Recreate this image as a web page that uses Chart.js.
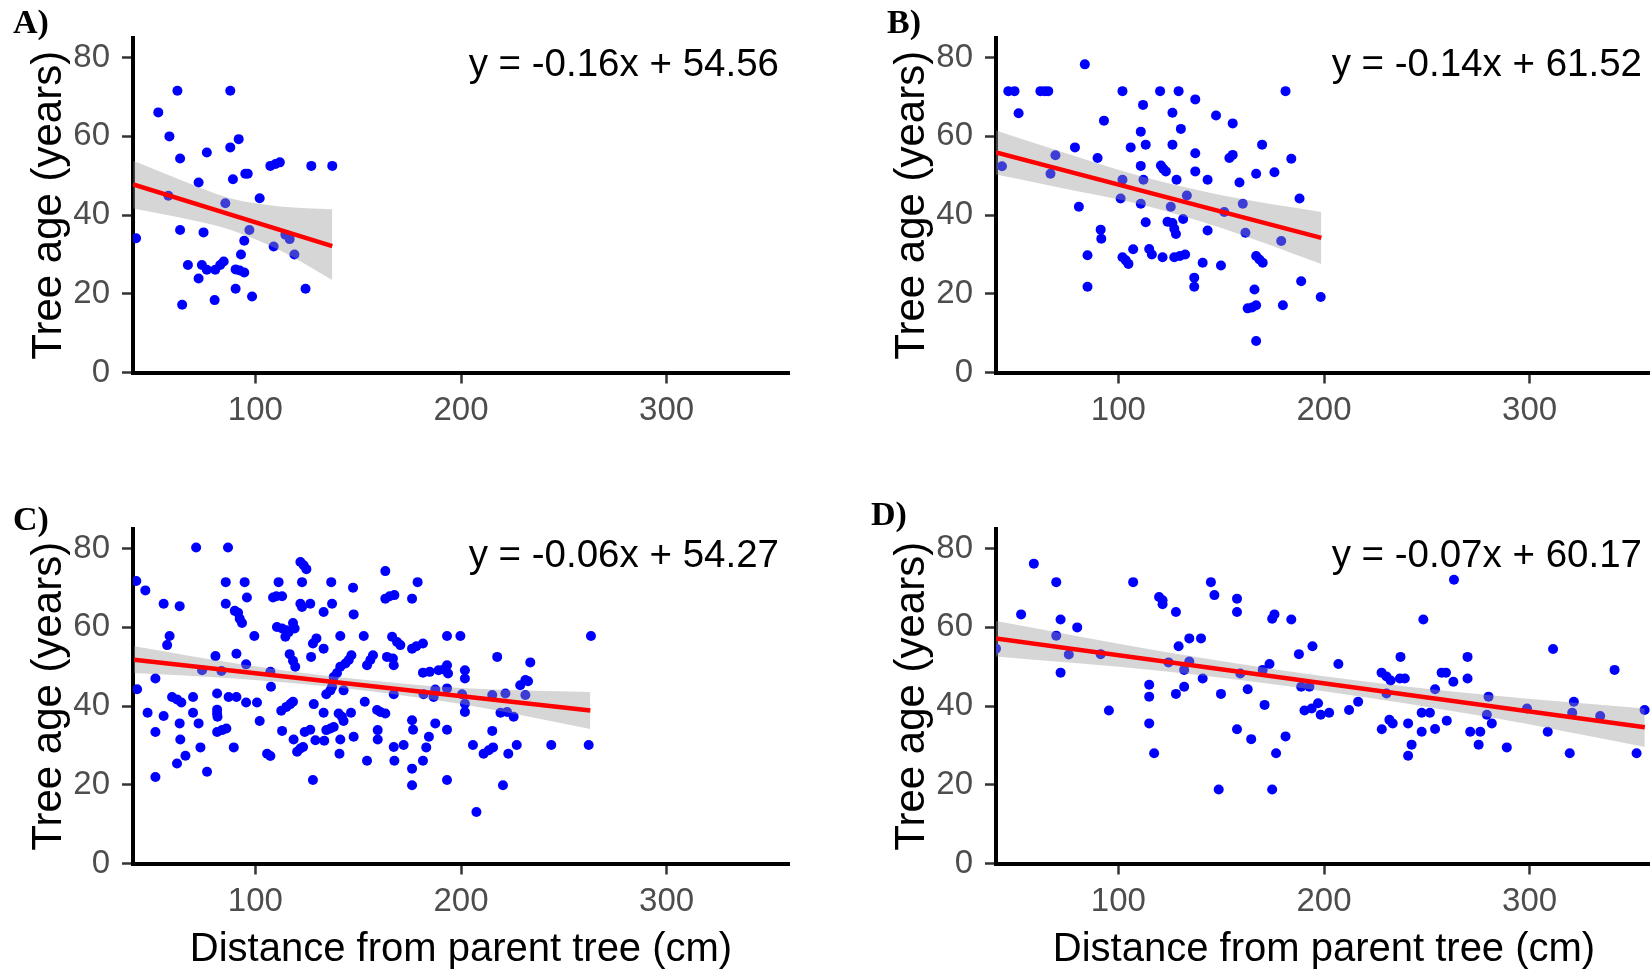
<!DOCTYPE html>
<html>
<head>
<meta charset="utf-8">
<script src="https://cdn.jsdelivr.net/npm/chart.js@4.4.1/dist/chart.umd.min.js"></script>
<style>
  html, body { margin: 0; padding: 0; width: 1650px; height: 972px; overflow: hidden; background: #ffffff; }
  .panel { position: absolute; }
  .panel canvas { display: block; }
  .lab { position: absolute; font-family: "Liberation Serif", "DejaVu Serif", serif; font-weight: bold;
         font-size: 34px; line-height: 1; color: #000; white-space: nowrap; }
</style>
</head>
<body>
<div class="panel" style="left:0px;top:0px;width:800px;height:460px"><canvas id="cA" width="800" height="460" style="width:800px;height:460px"></canvas></div>
<div class="panel" style="left:863px;top:0px;width:800px;height:460px"><canvas id="cB" width="800" height="460" style="width:800px;height:460px"></canvas></div>
<div class="panel" style="left:0px;top:491px;width:800px;height:481px"><canvas id="cC" width="800" height="481" style="width:800px;height:481px"></canvas></div>
<div class="panel" style="left:863px;top:491px;width:800px;height:481px"><canvas id="cD" width="800" height="481" style="width:800px;height:481px"></canvas></div>
<div class="lab" id="lA" style="left:13px;top:5px"></div>
<div class="lab" id="lB" style="left:887px;top:5px"></div>
<div class="lab" id="lC" style="left:13px;top:502px"></div>
<div class="lab" id="lD" style="left:871px;top:497px"></div>
<script>
// ---------------- data ----------------
const PANEL_LABELS = ['A)', 'B)', 'C)', 'D)'];
const EQUATIONS = ['y = -0.16x + 54.56', 'y = -0.14x + 61.52', 'y = -0.06x + 54.27', 'y = -0.07x + 60.17'];
const X_TITLE = 'Distance from parent tree (cm)';
const Y_TITLE = 'Tree age (years)';
const X_TICKS = [100, 200, 300];
const Y_TICKS = [0, 20, 40, 60, 80];
const X_RANGE = [40.5, 359.5];
const Y_RANGE = [0, 85];

// Panel A
const A_X = [42.0, 52.8, 58.2, 57.7, 62.1, 63.4, 63.4, 67.2, 64.4, 72.4,
             74.8, 76.4, 72.4, 74.0, 76.4, 80.5, 82.9, 84.6, 80.2, 85.4,
             87.8, 87.8, 91.9, 89.1, 95.1, 96.3, 90.4, 92.4, 94.6, 90.4,
             93.0, 94.6, 97.1, 98.4, 102.1, 107.3, 109.8, 111.9, 108.9, 114.6,
             116.7, 119.0, 124.4, 127.2, 137.4];
const A_Y = [34.1, 66.1, 60.0, 44.9, 71.6, 54.4, 36.2, 27.3, 17.2, 48.3,
             35.6, 55.9, 23.9, 27.3, 26.1, 26.1, 27.3, 28.2, 18.4, 43.0,
             71.6, 57.2, 59.3, 49.1, 50.5, 50.5, 26.2, 25.9, 25.4, 21.3,
             30.0, 33.5, 36.2, 19.3, 44.3, 52.5, 53.0, 53.4, 32.0, 35.0,
             33.9, 30.0, 21.3, 52.5, 52.5];
const A_LINE_X = [40.6, 137.4];
const A_LINE_Y = [47.8, 32.1];
const A_BAND_X = [40.6, 63.4, 87.8, 112.2, 137.4];
const A_BAND_HI = [53.8, 49.0, 44.3, 42.2, 41.5];
const A_BAND_LO = [41.7, 39.4, 36.3, 31.0, 23.5];

// Panel B
const B_X = [43.4, 46.5, 49.5, 51.5, 62.1, 64.2, 65.9, 67.0, 69.4, 78.9,
             80.8, 83.7, 85.0, 85.0, 89.9, 93.0, 91.4, 91.7, 102.0, 102.0,
             101.1, 102.0, 103.6, 104.9, 106.0, 107.2, 112.0, 110.9, 113.3, 110.9,
             112.2, 110.9, 113.3, 115.0, 116.3, 120.3, 120.7, 121.8, 123.1, 121.5,
             125.5, 126.3, 130.4, 129.3, 126.3, 128.3, 123.9, 126.3, 127.2, 128.0,
             127.2, 129.9, 132.5, 131.5, 133.3, 137.4, 137.4, 137.4, 136.9, 136.9,
             143.4, 143.4, 141.0, 147.5, 151.5, 149.9, 155.6, 154.0, 155.6, 158.9,
             160.5, 161.8, 162.9, 165.0, 167.0, 166.2, 167.0, 167.0, 169.9, 167.0,
             168.6, 170.2, 175.9, 179.2, 180.0, 181.3, 184.1, 188.1, 188.9, 198.4];
const B_Y = [52.4, 71.5, 71.5, 65.9, 71.5, 71.5, 71.5, 50.5, 55.2, 57.2,
             42.1, 78.3, 29.8, 21.8, 54.5, 64.0, 36.3, 34.0, 71.5, 49.0,
             44.2, 29.3, 28.5, 27.6, 57.2, 31.3, 68.0, 61.2, 57.9, 52.5,
             49.0, 42.9, 38.2, 31.4, 30.0, 71.5, 52.6, 51.8, 51.1, 29.3,
             42.1, 66.0, 61.9, 71.5, 57.9, 49.0, 38.3, 38.0, 36.5, 35.2,
             29.3, 29.6, 30.0, 39.0, 45.0, 69.4, 55.7, 51.1, 24.1, 21.8,
             49.0, 36.1, 27.9, 65.3, 40.8, 27.2, 63.3, 54.5, 55.3, 48.3,
             42.9, 35.5, 16.3, 16.5, 17.1, 21.1, 8.0, 50.5, 57.9, 29.6,
             28.7, 27.9, 50.9, 33.4, 17.1, 71.5, 54.3, 44.2, 23.2, 19.2];
const B_LINE_X = [40.5, 198.7];
const B_LINE_Y = [55.9, 34.2];
const B_BAND_X = [40.5, 69.3, 110.1, 150.8, 198.7];
const B_BAND_HI = [61.5, 56.6, 50.0, 45.0, 40.8];
const B_BAND_LO = [50.3, 47.2, 42.8, 36.6, 27.6];

// Panel C
const C_X = [42.1, 46.5, 42.5, 47.6, 51.4, 51.4, 51.4, 55.4, 55.4, 57.1,
             58.3, 63.2, 59.5, 61.9, 64.0, 63.2, 63.5, 61.9, 66.0, 71.2,
             69.7, 69.7, 72.4, 73.3, 76.5, 74.1, 80.6, 81.4, 81.4, 81.4,
             81.6, 81.4, 83.8, 85.9, 83.5, 86.7, 85.6, 85.6, 87.0, 90.8,
             89.5, 90.8, 90.0, 91.6, 92.4, 93.5, 94.8, 95.9, 95.5, 95.5,
             100.8, 99.5, 102.1, 105.7, 107.3, 107.6, 107.3, 108.6, 110.2, 113.0,
             111.3, 110.5, 113.0, 115.1, 114.6, 116.2, 118.3, 119.1, 112.6, 115.1,
             117.0, 118.3, 113.0, 116.7, 118.3, 119.4, 118.6, 120.3, 121.9, 123.2,
             121.9, 123.5, 124.8, 122.7, 121.9, 122.7, 126.7, 124.0, 126.7, 128.0,
             129.7, 127.1, 128.0, 128.4, 129.2, 133.5, 133.2, 133.2, 133.2, 136.9,
             137.3, 134.5, 136.5, 137.3, 134.5, 136.5, 138.1, 140.5, 142.1, 142.9,
             141.3, 141.3, 140.9, 138.1, 139.7, 141.3, 143.8, 145.4, 146.7, 142.9,
             146.5, 147.5, 147.8, 147.8, 152.7, 153.2, 154.3, 155.9, 157.2, 154.3,
             159.2, 160.8, 163.2, 159.5, 159.5, 163.2, 163.2, 165.3, 167.6, 164.0,
             166.9, 167.3, 166.5, 168.9, 170.5, 167.3, 167.3, 167.6, 172.1, 178.9,
             176.2, 176.2, 178.3, 181.5, 193.2, 199.7, 181.5, 184.8, 189.1, 191.6,
             193.2, 193.7, 201.9, 201.9, 181.8, 186.7, 187.5, 193.2, 200.5, 201.9,
             201.9, 176.2, 176.7, 187.5, 193.2, 184.4, 183.1, 181.5, 176.2, 176.2,
             193.2, 207.5, 205.8, 211.0, 213.5, 215.6, 215.2, 217.6, 215.2, 219.2,
             221.6, 222.4, 225.6, 220.4, 223.0, 227.1, 228.8, 231.3, 232.6, 231.3,
             233.7, 243.9, 262.1, 263.2];
const C_Y = [71.8, 69.4, 44.3, 38.3, 47.0, 33.4, 22.0, 66.0, 37.5, 55.5,
             57.8, 65.4, 42.3, 41.7, 40.9, 35.6, 31.5, 25.4, 27.4, 80.3,
             42.3, 38.3, 35.6, 29.5, 23.3, 49.1, 52.7, 43.2, 39.1, 38.1,
             37.3, 33.4, 33.9, 34.3, 48.9, 80.3, 71.5, 66.0, 42.3, 42.3,
             29.5, 53.3, 64.2, 63.7, 62.2, 61.1, 71.5, 67.6, 50.6, 40.9,
             40.9, 57.8, 36.2, 27.9, 27.3, 44.9, 48.7, 67.6, 67.9, 67.9,
             71.5, 60.1, 59.7, 59.3, 57.6, 58.8, 61.1, 59.7, 38.8, 39.8,
             40.5, 41.1, 33.7, 53.2, 51.5, 50.0, 31.5, 28.4, 29.2, 29.6,
             76.6, 75.8, 74.8, 71.5, 66.0, 65.2, 66.0, 33.4, 34.0, 55.9,
             57.2, 52.5, 21.2, 40.5, 31.3, 31.2, 63.9, 54.6, 38.3, 71.5,
             66.0, 43.0, 44.0, 44.9, 33.9, 34.3, 34.7, 38.1, 37.3, 36.2,
             57.8, 31.5, 27.9, 47.4, 48.4, 50.0, 50.8, 51.7, 52.9, 44.0,
             38.3, 70.1, 63.3, 32.2, 57.8, 41.1, 50.4, 51.7, 52.9, 26.1,
             39.0, 38.5, 38.1, 33.9, 31.5, 74.3, 67.3, 67.9, 68.2, 52.5,
             52.1, 50.4, 57.6, 56.3, 55.5, 43.0, 29.6, 26.1, 30.1, 71.5,
             67.3, 54.6, 55.2, 55.9, 57.8, 57.8, 48.5, 48.7, 49.1, 49.3,
             50.4, 48.3, 49.1, 47.0, 43.0, 42.3, 44.2, 44.5, 43.0, 40.6,
             38.5, 36.4, 34.0, 35.6, 34.0, 32.2, 29.5, 26.1, 24.1, 19.9,
             21.2, 13.1, 30.1, 27.9, 28.8, 29.5, 33.7, 52.5, 42.8, 38.3,
             43.2, 38.5, 37.3, 19.9, 27.9, 30.1, 45.3, 46.6, 46.3, 42.8,
             51.1, 30.1, 30.1, 57.8];
const C_LINE_X = [41.0, 262.9];
const C_LINE_Y = [51.8, 38.9];
const C_BAND_X = [41.0, 90.0, 140.0, 200.0, 262.9];
const C_BAND_HI = [55.2, 50.9, 47.4, 44.6, 43.6];
const C_BAND_LO = [48.4, 47.0, 44.7, 40.5, 34.2];

// Panel D
const D_X = [40.5, 52.7, 58.9, 69.8, 69.8, 71.9, 71.9, 75.9, 80.0, 91.4,
             95.4, 107.2, 115.0, 115.0, 115.0, 117.4, 119.8, 121.5, 121.5, 128.0,
             129.3, 128.0, 124.4, 132.0, 132.0, 134.5, 134.5, 140.2, 141.0, 145.0,
             146.7, 148.8, 149.9, 157.7, 157.7, 159.3, 157.7, 162.9, 164.6, 171.1,
             170.2, 173.5, 174.8, 174.8, 175.9, 176.7, 184.1, 181.3, 187.8, 194.4,
             188.9, 192.9, 190.5, 194.0, 197.1, 198.4, 202.5, 207.0, 212.2, 216.6,
             228.0, 230.4, 232.4, 230.4, 228.1, 231.8, 233.4, 237.2, 236.9, 239.3,
             240.9, 242.6, 240.9, 248.3, 247.5, 251.5, 247.5, 254.0, 254.0, 257.2,
             259.3, 259.7, 262.9, 263.2, 269.8, 269.8, 271.1, 276.0, 275.2, 280.0,
             279.2, 281.6, 288.9, 298.7, 308.8, 311.4, 319.5, 321.5, 320.7, 334.3,
             341.3, 352.0, 355.9];
const D_Y = [54.6, 63.3, 76.2, 71.5, 57.9, 62.0, 48.5, 53.1, 60.0, 53.2,
             38.9, 71.5, 45.4, 42.4, 35.6, 28.0, 67.7, 66.9, 65.9, 63.9,
             55.2, 43.1, 51.1, 49.2, 44.9, 51.3, 57.2, 57.2, 47.0, 71.5,
             68.2, 18.8, 43.1, 67.3, 63.9, 48.3, 34.1, 44.3, 31.6, 40.3,
             49.2, 50.7, 18.8, 62.2, 63.3, 28.0, 62.0, 32.3, 53.2, 55.2,
             44.9, 44.9, 38.9, 39.4, 40.7, 37.8, 38.3, 50.7, 39.0, 41.1,
             48.5, 47.5, 46.5, 43.2, 34.1, 36.5, 35.6, 52.5, 47.0, 47.0,
             35.6, 30.2, 27.4, 62.0, 38.3, 38.3, 33.5, 44.3, 34.2, 48.5,
             48.5, 36.3, 46.2, 72.1, 52.5, 47.0, 33.5, 33.5, 30.2, 42.4,
             37.8, 35.6, 29.5, 39.4, 33.5, 54.5, 28.0, 41.1, 38.3, 37.5,
             49.2, 28.0, 39.0];
const D_LINE_X = [40.5, 356.0];
const D_LINE_Y = [57.2, 34.6];
const D_BAND_X = [40.5, 120.0, 200.0, 280.0, 356.0];
const D_BAND_HI = [61.6, 54.0, 47.6, 42.8, 39.4];
const D_BAND_LO = [52.6, 49.0, 43.8, 37.2, 29.6];

// ---------------- drawing ----------------
const SANS = '"Liberation Sans", Arial, Helvetica, sans-serif';
const zip = (xs, ys) => xs.map((x, i) => ({x: x, y: ys[i]}));

const eqPlugin = {
  id: 'eq',
  afterDraw(chart, args, opts) {
    const {ctx, chartArea} = chart;
    ctx.save();
    ctx.font = '38.5px ' + SANS;
    ctx.fillStyle = '#000000';
    ctx.textAlign = 'right';
    ctx.textBaseline = 'alphabetic';
    ctx.fillText(opts.text, chartArea.right - 10, chartArea.top + 38);
    ctx.restore();
  }
};

const PANELS = [
  {id: 'cA', lab: 'lA', h: 460, xTitle: false, px: A_X, py: A_Y, lx: A_LINE_X, ly: A_LINE_Y, bx: A_BAND_X, bh: A_BAND_HI, bl: A_BAND_LO},
  {id: 'cB', lab: 'lB', h: 460, xTitle: false, px: B_X, py: B_Y, lx: B_LINE_X, ly: B_LINE_Y, bx: B_BAND_X, bh: B_BAND_HI, bl: B_BAND_LO},
  {id: 'cC', lab: 'lC', h: 481, xTitle: true,  px: C_X, py: C_Y, lx: C_LINE_X, ly: C_LINE_Y, bx: C_BAND_X, bh: C_BAND_HI, bl: C_BAND_LO},
  {id: 'cD', lab: 'lD', h: 481, xTitle: true,  px: D_X, py: D_Y, lx: D_LINE_X, ly: D_LINE_Y, bx: D_BAND_X, bh: D_BAND_HI, bl: D_BAND_LO}
];

const AREA_BOTTOM = 372.5;

PANELS.forEach((p, k) => {
  document.getElementById(p.lab).textContent = PANEL_LABELS[k];
  const tickFont = {family: SANS, size: 33};
  const gridOpts = {display: true, drawOnChartArea: false, drawTicks: true, tickLength: 11, tickWidth: 2.5, tickColor: '#333333'};
  new Chart(document.getElementById(p.id), {
    type: 'scatter',
    data: {
      datasets: [
        {type: 'line', data: zip(p.lx, p.ly), borderColor: '#ff0000', borderWidth: 4.5, pointRadius: 0,
         fill: false, showLine: true, tension: 0, order: 0},
        {type: 'line', data: zip(p.bx, p.bh), borderColor: 'rgba(0,0,0,0)', borderWidth: 0,
         backgroundColor: 'rgba(153,153,153,0.4)', pointRadius: 0, fill: '+1', showLine: true,
         cubicInterpolationMode: 'monotone', order: 1},
        {type: 'line', data: zip(p.bx, p.bl), borderColor: 'rgba(0,0,0,0)', borderWidth: 0,
         pointRadius: 0, fill: false, showLine: true, cubicInterpolationMode: 'monotone', order: 2},
        {type: 'scatter', data: zip(p.px, p.py), backgroundColor: '#0000ff', borderWidth: 0,
         pointRadius: 5, order: 3}
      ]
    },
    options: {
      responsive: false,
      animation: false,
      devicePixelRatio: 1,
      events: [],
      layout: {padding: {top: 38, right: 11, bottom: 0, left: 0}},
      plugins: {legend: {display: false}, tooltip: {enabled: false}, eq: {text: EQUATIONS[k]}},
      scales: {
        x: {
          type: 'linear', min: X_RANGE[0], max: X_RANGE[1],
          afterBuildTicks: (s) => { s.ticks = X_TICKS.map(v => ({value: v})); },
          ticks: {font: tickFont, color: '#4d4d4d', padding: 8, maxRotation: 0, autoSkip: false},
          grid: gridOpts,
          border: {display: true, color: '#000000', width: 4},
          title: {display: p.xTitle, text: X_TITLE, color: '#000000',
                  font: {family: SANS, size: 40, lineHeight: 1}, padding: {top: 0, bottom: 2}},
          afterFit: (s) => { s.height = p.h - AREA_BOTTOM; }
        },
        y: {
          type: 'linear', min: Y_RANGE[0], max: Y_RANGE[1],
          afterBuildTicks: (s) => { s.ticks = Y_TICKS.map(v => ({value: v})); },
          ticks: {font: tickFont, color: '#4d4d4d', padding: 12, autoSkip: false},
          grid: gridOpts,
          border: {display: true, color: '#000000', width: 4},
          title: {display: true, text: Y_TITLE, color: '#000000',
                  font: {family: SANS, size: 42, lineHeight: 1}, padding: {top: 28, bottom: 0}},
          afterFit: (s) => { s.width = 133; }
        }
      }
    },
    plugins: [eqPlugin]
  });
});
</script>
</body>
</html>
